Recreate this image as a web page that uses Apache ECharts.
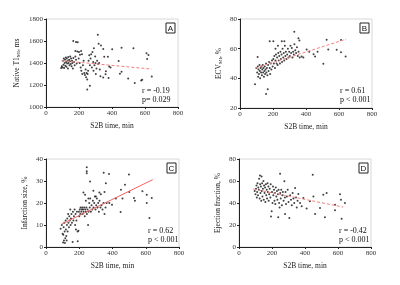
<!DOCTYPE html>
<html>
<head>
<meta charset="utf-8">
<script src="https://cdn.jsdelivr.net/npm/echarts@6/dist/echarts.min.js"></script>
<style>
html,body{margin:0;padding:0;background:#fff}
#Chart{width:400px;height:285px}
</style>
</head>
<body>
<div id="Chart"></div>
<script>
// S2B time (min) vs value
var ptsA=[[92,1355],[96,1370],[100,1360],[103,1420],[106,1385],[108,1440],[110,1355],[113,1400],[115,1430],[117,1375],[120,1450],[122,1410],[124,1365],[126,1440],[128,1395],[131,1420],[133,1350],[135,1455],[137,1400],[140,1430],[142,1380],[145,1415],[147,1460],[150,1390],[152,1440],[155,1370],[158,1420],[160,1400],[163,1350],[166,1445],[170,1410],[174,1380],[178,1460],[182,1430],[186,1395],
    [165,1600],[182,1590],[192,1588],[178,1510],[190,1505],[200,1500],[213,1510],[206,1475],[218,1480],
    [198,1440],[204,1400],[210,1360],[214,1330],[220,1300],[224,1380],[228,1420],[232,1310],[236,1290],[240,1340],[243,1270],[246,1310],[250,1250],[252,1300],[255,1330],[258,1420],[262,1470],[266,1380],[270,1440],[274,1480],[278,1360],[250,1158],[266,1194],[282,1500],[286,1410],[290,1533],[294,1380],[298,1460],[302,1300],[306,1350],[310,1420],[314,1657],[319,1575],[333,1560],[316,1390],[322,1400],[326,1340],[330,1280],[300,1400],[288,1330],
    [347,1527],[353,1457],[375,1457],[363,1324],[361,1297],[347,1269],[379,1263],[383,1369],[391,1360],[401,1524],[440,1418],[448,1303],[458,1321],[458,1539],[498,1260],[530,1533],[538,1218],[577,1242],[583,1248],[609,1488],[621,1472],[613,1436],[641,1278]]
var ptsB=[[91,36],[158,29.5],[168,32.6],[107,54.3],
    [100,47],[104,44],[108,48],[110,41],[112,46],[115,43],[118,49],[120,45],[122,40],[125,47],[128,44],[130,48],[133,42],[135,46],[138,49],[140,44],[142,47],[145,41],[148,45],[150,48],[152,43],[155,46],[158,50],[160,44],[163,47],[166,42],[170,49],[173,45],[176,51],[180,47],[183,43],[186,50],[190,46],[194,52],[198,48],[202,53],[205,50],[208,55],[212,47],[215,52],[218,56],[222,50],[225,54],[228,49],[232,57],[235,52],[238,55],[242,50],[245,58],[248,53],[252,56],[255,51],[258,60],[262,54],[265,57],[268,52],[272,62],[275,55],[278,58],[282,53],[286,56],[290,60],[294,54],[298,58],[302,55],[306,62],[310,57],[314,60.4],[318,54],[322,58],[326,56],[330,63],[335,59],[340,57],[345,61],[350,55],[355,58],[362,54],
    [180,65],[202,65],[253,65],[269,65],[329,71.4],[354,67],[360,65.5],[230,62],[215,60],
    [374,54.7],[384,54],[404,59.5],[446,56.3],[455,54.7],[505,49.8],[525,66],[535,59.5],[586,59.2],[612,57.6],[612,65.8],[640,54.7],[470,58],[420,58]]
var ptsC=[[88,8.3],[95,10],[100,6],[103,2],[104,5.6],[106,9],[108,3],[110,11],[112,7],[114,1.8],[116,4],[118,12],[120,8],[122,5],[124,2.9],[126,10],[128,13],[130,7],[133,15],[135,11],[138,9],[140,14],[143,12],[146,17],[148,10],[150,13],[153,15],[156,11],[160,2.3],[162,16],[165,12],[168,14],[172,17],[175,10],[178,15],[180,8],[183,12],[186,16],[190,7],[191,2.6],[195,7.4],[198,16],[200,14],[203,17],[206,15],[208,18],[212,16],[215,17],[218,18],[220,15],[223,17],[226,16],[230,18],[233,14],[236,17],[240,16],[243,18],[246,15],[250,17],[253,10],[256,16],[260,20],[263,18],[266,22],[270,16],[274,19],[278,17],[282,21],[286,18],[290,20],[294,23],[298,17],[302,19],[306,22],[310,18],[314,20],[318,16],[322,21],[328,18],[334,19],[340,17],[346,20],[352,15],[358,18],[365,20],
    [245,36.2],[245,34.4],[245,33.5],[347,33.8],[379,33.2],[499,32.9],[265,29.8],[285,25.6],[321,24.8],[225,24.8],[235,23.8],[240,21],[255,22],[300,23],[330,24],[360,29],[352,25],
    [451,26],[475,28.3],[580,25.3],[606,23.8],[636,22.3],[606,20],[529,22.3],[535,21],[501,25],[449,15.9],[622,13.2],[381,20],[397,19.2],[420,22],[460,22]]
var ptsD=[[95,51],[100,48],[103,53],[106,56],[108,45],[110,50],[112,58],[115,47],[117,54],[120,52],[122,62],[125,44],[127,65.1],[128,57],[130,49],[133,55],[135,42],[137,64.2],[138,51],[140,58],[142,46],[145,53],[148,60],[150,43],[152,56],[155,49],[158,54],[160,41],[163,57],[165,47],[168,52],[170,44],[173,58],[175,50],[178,55],[180,42],[183,48],[186,53],[190,45],[192,57],[194,27.8],[198,32.4],[200,50],[203,40],[206,55],[208,47],[212,52],[215,42],[218,49],[220,39],[223,54],[226,46],[230,51],[233,43],[236,48],[238,27],[240,52],[243,40],[246,36],[249,66.6],[250,49],[253,44],[256,52],[260,38],[263,47],[266,50],[270,42],[275,59.7],[278,45],[279,30],[282,50],[285,39],[290,46],[295,52],[300,41],[305,26.3],[310,47],[315,43],[320,38],[325,49],[330,44],[335,40],[340,53.6],[345,45],[350,36],[355,42],[360,48.2],[370,40],[380,37],[390,44.5],[410,35],[430,41.5],[447,65.7],[451,46],[461,30],[491,35.4],[511,47.5],[521,27],[531,49],[582,33.3],[582,38.4],[612,48],[618,43],[622,25.7],[642,40]]

// regression line ends
var fitA=[[95,1421],[640,1345]]
var fitB=[[91,46.8],[643,66.4]]
var fitC=[[94,10.4],[642,30.6]]
var fitD=[[87,52.7],[632,36.3]]

var yNames=['{a|Native T1}{s|MI}{a|, ms}','{a|ECV}{s|MI}{a|, %}','{a|Infarction size, %}','{a|Ejection fraction, %}']
var yRanges=[[1000,1800,200],[20,80,20],[0,40,10],[0,80,20]]
var stats=['r = -0.19\np= 0.029','r = 0.61\np < 0.001','r = 0.62\np < 0.001','r = -0.42\np < 0.001']
var letters=['A','B','C','D']

var serif='"Liberation Serif","DejaVu Serif",serif'
var grids=[
    {left:46,top:19,width:132,height:88},
    {left:240,top:19,width:132,height:89},
    {left:46,top:159,width:133,height:88},
    {left:239,top:159,width:132,height:88}
]
var statX=[142,340,148,339]

function drawChar(){
    var myChart=echarts.init(document.getElementById('Chart'),null,{renderer:'canvas'})
    var pts=[ptsA,ptsB,ptsC,ptsD], fits=[fitA,fitB,fitC,fitD]
    var xAxis=[],yAxis=[],series=[],graphic=[]
    $each(grids,function(i,g){
        g.show=true
        g.borderColor='#d8d8d8'
        g.borderWidth=1
        xAxis.push({
            gridIndex:i,type:'value',min:0,max:800,interval:200,
            name:'S2B time, min',nameLocation:'middle',nameGap:15,
            nameTextStyle:{fontFamily:serif,fontSize:7.5,color:'#222'},
            axisLine:{lineStyle:{color:'#222',width:1}},
            axisTick:{length:2,lineStyle:{color:'#222'}},
            axisLabel:{fontFamily:serif,fontSize:7,color:'#333',margin:3},
            splitLine:{show:false}
        })
        yAxis.push({
            gridIndex:i,type:'value',min:yRanges[i][0],max:yRanges[i][1],interval:yRanges[i][2],
            name:yNames[i],nameLocation:'middle',nameGap:i==0?25:17,nameRotate:90,
            nameTextStyle:{color:'#222',rich:{
                a:{fontFamily:serif,fontSize:7.5,color:'#222'},
                s:{fontFamily:serif,fontSize:5,color:'#222',verticalAlign:'bottom'}
            }},
            axisLine:{show:true,lineStyle:{color:'#222',width:1}},
            axisTick:{show:true,length:2,lineStyle:{color:'#222'}},
            axisLabel:{fontFamily:serif,fontSize:7,color:'#333',margin:3,
                formatter:function(v){return String(v)}},
            splitLine:{show:false}
        })
        series.push({
            type:'scatter',xAxisIndex:i,yAxisIndex:i,data:pts[i],
            symbol:'circle',symbolSize:2,itemStyle:{color:'#111'},silent:true
        })
        series.push({
            type:'line',xAxisIndex:i,yAxisIndex:i,data:fits[i],
            symbol:'none',silent:true,z:3,
            lineStyle:{color:i==2?'#f06262':'#f77e7e',width:1,type:i==2?'solid':[3,2]}
        })
        var bx=g.left+g.width-12, by=g.top+4
        graphic.push({type:'rect',shape:{x:bx,y:by,width:9,height:10},
            style:{fill:'#fff',stroke:'#222',lineWidth:1}})
        graphic.push({type:'text',x:bx+4.5,y:by+5.5,style:{text:letters[i],
            font:'8px "Liberation Sans",Arial,sans-serif',fill:'#111',textAlign:'center',textVerticalAlign:'middle'}})
        graphic.push({type:'text',x:statX[i],y:g.top+68,style:{text:stats[i],
            font:'8px '+serif,fill:'#111',textAlign:'left',textVerticalAlign:'top',lineHeight:8.5}})
    })
    var option={
        animation:false,
        backgroundColor:'#fff',
        grid:grids,
        xAxis:xAxis,
        yAxis:yAxis,
        series:series,
        graphic:graphic
    }
    myChart.setOption(option)
}
function $each(arr,fn){for(var i=0;i<arr.length;i++){fn(i,arr[i])}}
drawChar()
</script>
</body>
</html>
